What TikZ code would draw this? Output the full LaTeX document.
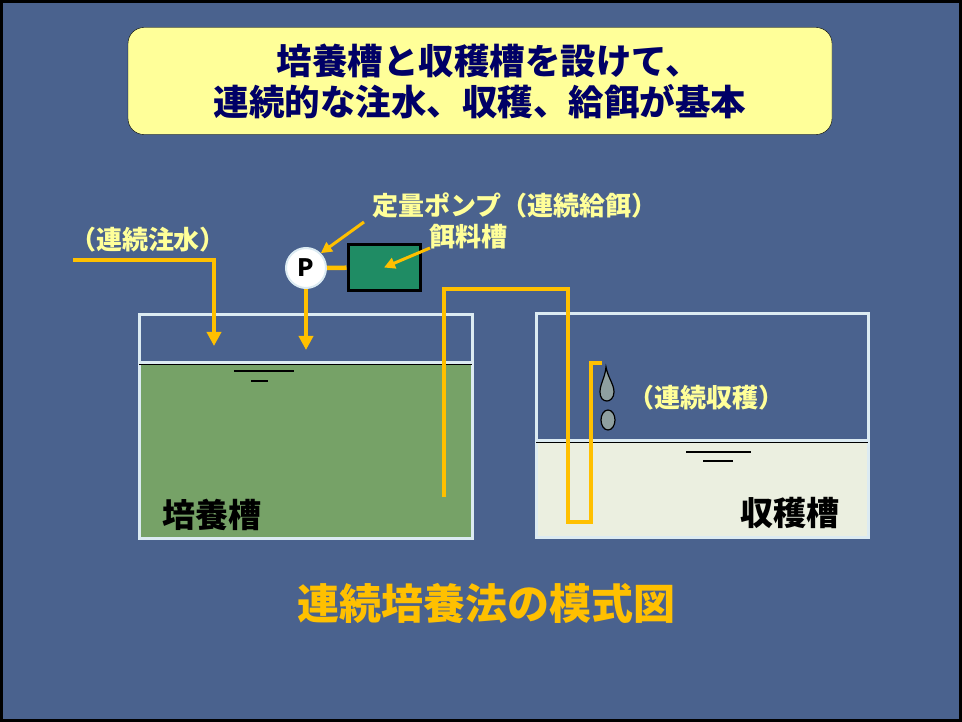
\documentclass[tikz,border=0pt]{standalone}
\usepackage{fontspec}
\newfontfamily\jp{Noto Sans CJK JP}
\usetikzlibrary{arrows.meta}
\definecolor{slide}{HTML}{4A628E}
\definecolor{notepad}{HTML}{FFFF99}
\definecolor{navy}{HTML}{000066}
\definecolor{pipe}{HTML}{FFC000}
\definecolor{tankedge}{HTML}{DCEBF2}
\definecolor{cultwater}{HTML}{76A267}
\definecolor{harvwater}{HTML}{EBEFE0}
\definecolor{feedgreen}{HTML}{1F8C64}
\definecolor{drop}{HTML}{8FA0A0}
\tikzset{
  pipeline/.style={pipe, line width=4.5pt},
  feedarrow/.style={pipeline, -{Triangle[width=14pt,length=14pt]}},
  notearrow/.style={pipe, line width=3pt, -{Triangle[width=11pt,length=11pt]}},
  tank/.style={draw=tankedge, line width=3pt, minimum width=333pt, minimum height=223pt},
  notelabel/.style={text=notepad, font=\jp\bfseries\fontsize{26}{30}\selectfont, inner sep=0pt},
  tanklabel/.style={text=black, font=\jp\bfseries\fontsize{33}{36}\selectfont, inner sep=0pt},
}
\begin{document}
\begin{tikzpicture}[x=1pt,y=-1pt]
\useasboundingbox (0,0) rectangle (962,722);
\draw[line width=3pt, fill=slide] (1.5,1.5) rectangle (960.5,720.5);
\node[draw=black, fill=notepad, rounded corners=16pt, minimum width=704pt, minimum height=107pt, align=center, text=navy, font=\jp\bfseries\fontsize{35.5}{41}\selectfont] (title) at (480,81) {\hspace*{0.5em}培養槽と収穫槽を設けて、\\連続的な注水、収穫、給餌が基本};
% water in both tanks
\fill[cultwater] (139,362) rectangle (472,538);
\fill[harvwater] (536,440) rectangle (868,537);
\node[tank] (culttank) at (305.5,426.5) {};
\node[tank, minimum width=332pt] (harvtank) at (702,425.5) {};
\draw[tankedge, line width=3pt] (139,362) -- (472,362);
\draw[tankedge, line width=3pt] (536,440) -- (868,440);
\draw[black, line width=1.2pt] (139,364.5) -- (472,364.5);
\draw[black, line width=1.2pt] (536,442.5) -- (868,442.5);
\draw[black, line width=1.2pt] (234,371) -- (294,371) (251,381) -- (268,381);
\draw[black, line width=1.2pt] (686,452) -- (751,452) (703,461) -- (733,461);
% feed pump and feed tank
\node[circle, draw=tankedge, line width=2pt, fill=white, minimum size=40pt, inner sep=0pt, font=\jp\bfseries\fontsize{24}{24}\selectfont] (pump) at (306,268) {P};
\node[draw=black, line width=3pt, fill=feedgreen, minimum width=72pt, minimum height=46pt] (feedtank) at (384,267.5) {};
\draw[pipeline] (pump) -- (feedtank);
\coordinate (feedend) at (306,350);
\draw[feedarrow] (pump.south) -- (feedend);
% inflow
\coordinate (inflow) at (73,260);
\coordinate (inflowbend) at (214,260);
\coordinate (inflowend) at (214,346);
\draw[feedarrow] (inflow) -- (inflowbend) -- (inflowend);
% siphon to the harvest tank
\coordinate (s0) at (444,497);
\coordinate (s1) at (444,289);
\coordinate (s2) at (568,289);
\coordinate (s3) at (568,522);
\coordinate (s4) at (591,522);
\coordinate (s5) at (591,363);
\coordinate (s6) at (602,363);
\draw[pipeline] (s0) -- (s1) -- (s2) -- (s3) -- (s4) -- (s5) -- (s6);
\draw[black, line width=1.2pt, fill=drop] (606,367) .. controls (608,378) and (614,384) .. (614,392) .. controls (614,398) and (610,401) .. (607,401) .. controls (603,401) and (600,398) .. (600,392) .. controls (600,384) and (605,378) .. (606,367) -- cycle;
\draw[black, line width=1.2pt, fill=drop] (608,420) ellipse (7 and 10);
% labels
\node[notelabel] (pumplabel) at (515,205) {定量ポンプ（連続給餌）};
\node[notelabel] (feedlabel) at (468,237) {餌料槽};
\node[notelabel] (inflowlabel) at (148,240) {（連続注水）};
\node[notelabel] (harvlabel) at (706,398) {（連続収穫）};
\coordinate (pumpnote) at (364,222);
\coordinate (feednote) at (430,248);
\draw[notearrow] (pumpnote) -- (pump.north east);
\draw[notearrow] (feednote) -- (feedtank.center);
\node[tanklabel] (cultlabel) at (212,515) {培養槽};
\node[tanklabel] (harvtanklabel) at (790,513) {収穫槽};
\node[text=pipe, font=\jp\bfseries\fontsize{42}{46}\selectfont, inner sep=0pt] (caption) at (486,603) {連続培養法の模式図};
\end{tikzpicture}
\end{document}
